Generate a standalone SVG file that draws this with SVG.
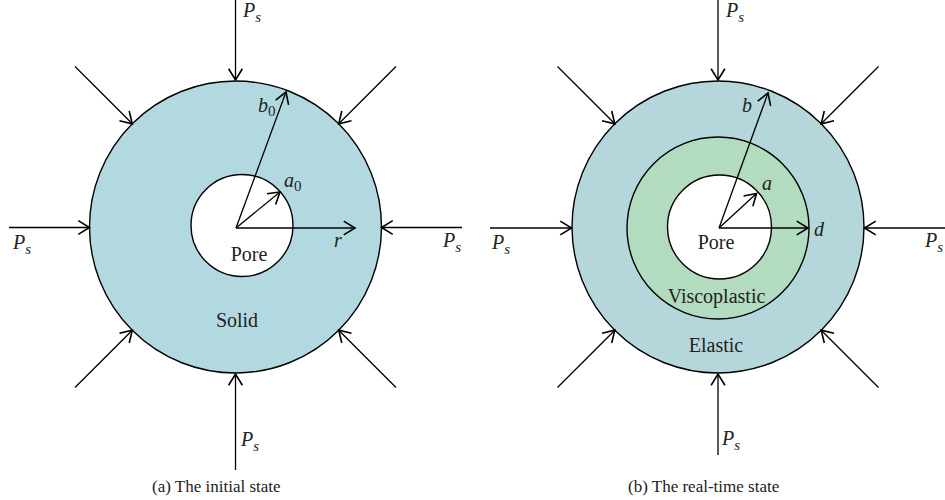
<svg xmlns="http://www.w3.org/2000/svg" width="945" height="500" viewBox="0 0 945 500">
<style>
.ln{stroke:#000;stroke-width:1.3;fill:none}
.ar{stroke:#000;stroke-width:1.3;fill:none;marker-end:url(#chev)}
.ci{stroke:#000;stroke-width:1.4}
text{font-family:"Liberation Serif","DejaVu Serif",serif;fill:#222}
.lb{font-size:20px}
.it{font-style:italic;font-size:20px}
.sub{font-size:15px}
.cap{font-size:17px}
</style>
<defs>
<marker id="chev" markerUnits="userSpaceOnUse" markerWidth="20" markerHeight="20" viewBox="-12 -8 14 16" refX="0" refY="0" orient="auto">
<path d="M-9,-5.5 L0,0 L-9,5.5" stroke="#000" stroke-width="1.3" fill="none"/>
</marker>
</defs>
<g id="left-body">
<circle class="ci" cx="235.5" cy="227" r="146" fill="#b3d9e0"/>
<circle class="ci" cx="242" cy="225.5" r="51" fill="#fff"/>
<text class="lb" x="249" y="261" text-anchor="middle">Pore</text>
<text class="lb" x="237" y="327" text-anchor="middle">Solid</text>
</g>
<g id="right-body">
<circle class="ci" cx="718" cy="227" r="146" fill="#b5d6da"/>
<circle class="ci" cx="718" cy="228" r="91" fill="#b2dbbf"/>
<circle class="ci" cx="719.5" cy="227" r="52" fill="#fff"/>
<text class="lb" x="716" y="249" text-anchor="middle">Pore</text>
<text class="lb" x="716.5" y="303" text-anchor="middle">Viscoplastic</text>
<text class="lb" x="716" y="352" text-anchor="middle">Elastic</text>
</g>
<g id="connectors">
<line class="ar" x1="235.5" y1="0" x2="235.5" y2="80"/>
<line class="ar" x1="235.5" y1="470" x2="235.5" y2="374"/>
<line class="ar" x1="9" y1="227.5" x2="89.5" y2="227.5"/>
<line class="ar" x1="462" y1="227.5" x2="381.5" y2="227.5"/>
<line class="ar" x1="75" y1="66.5" x2="132.3" y2="123.8"/>
<line class="ar" x1="396" y1="66.5" x2="338.7" y2="123.8"/>
<line class="ar" x1="75" y1="387.5" x2="132.3" y2="330.2"/>
<line class="ar" x1="396" y1="387.5" x2="338.7" y2="330.2"/>
<line class="ar" x1="236" y1="228" x2="286" y2="92"/>
<line class="ar" x1="236" y1="228" x2="280" y2="192"/>
<line class="ar" x1="236" y1="228" x2="355" y2="228"/>

<line class="ar" x1="718" y1="0" x2="718" y2="80"/>
<line class="ar" x1="718" y1="455" x2="718" y2="374"/>
<line class="ar" x1="490" y1="228" x2="571.5" y2="228"/>
<line class="ar" x1="945" y1="228" x2="864.5" y2="228"/>
<line class="ar" x1="557.5" y1="66.5" x2="614.8" y2="123.8"/>
<line class="ar" x1="878.5" y1="66.5" x2="821.2" y2="123.8"/>
<line class="ar" x1="557.5" y1="387.5" x2="614.8" y2="330.2"/>
<line class="ar" x1="878.5" y1="387.5" x2="821.2" y2="330.2"/>
<line class="ar" x1="719" y1="228" x2="768" y2="93"/>
<line class="ar" x1="719" y1="228" x2="756.5" y2="193.5"/>
<line class="ar" x1="719" y1="228" x2="808" y2="228"/>
</g>
<g id="labels">
<text class="it" x="243" y="17">P<tspan class="sub" dy="5">s</tspan></text>
<text class="it" x="241" y="446">P<tspan class="sub" dy="5">s</tspan></text>
<text class="it" x="13" y="249">P<tspan class="sub" dy="5">s</tspan></text>
<text class="it" x="443" y="247">P<tspan class="sub" dy="5">s</tspan></text>
<text class="it" x="258" y="112">b<tspan class="sub" font-style="normal" dy="4">0</tspan></text>
<text class="it" x="284" y="187">a<tspan class="sub" font-style="normal" dy="4">0</tspan></text>
<text class="it" x="334" y="247">r</text>

<text class="it" x="726" y="17">P<tspan class="sub" dy="5">s</tspan></text>
<text class="it" x="722" y="445">P<tspan class="sub" dy="5">s</tspan></text>
<text class="it" x="492" y="249">P<tspan class="sub" dy="5">s</tspan></text>
<text class="it" x="925" y="247">P<tspan class="sub" dy="5">s</tspan></text>
<text class="it" x="742" y="112">b</text>
<text class="it" x="762" y="190">a</text>
<text class="it" x="814" y="236">d</text>

<text class="cap" x="152" y="492">(a)  The initial state</text>
<text class="cap" x="628" y="492">(b)  The real-time state</text>
</g>
</svg>
